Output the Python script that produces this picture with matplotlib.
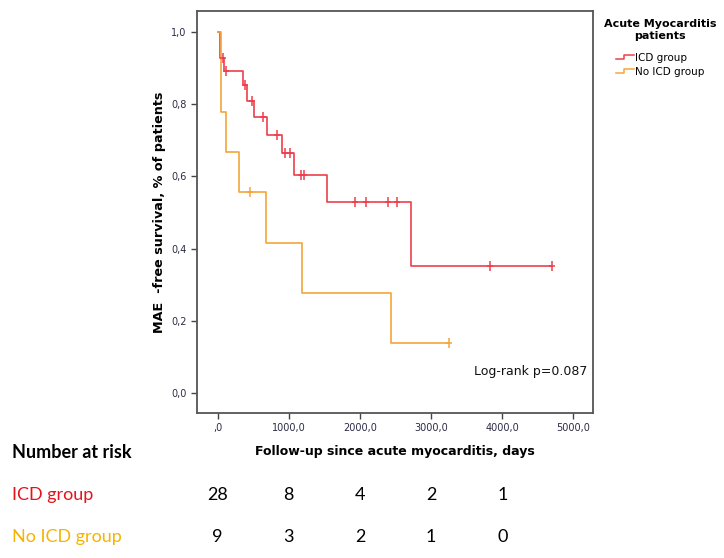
import numpy as np
import matplotlib
matplotlib.use("Agg")
import matplotlib.pyplot as plt
from matplotlib.legend_handler import HandlerBase
from matplotlib.lines import Line2D
import matplotlib.transforms as mtransforms

# ---- data ----
icd_times = [0, 35, 90, 363, 410, 513, 700, 906, 1079, 1543, 2722, 4694]
icd_surv = [1.0, 0.929, 0.893, 0.852, 0.810, 0.764, 0.716, 0.666, 0.605, 0.529, 0.353, 0.353]
icd_censor = [77, 120, 386, 489, 643, 831, 948, 1018, 1168, 1215, 1936, 2081, 2400, 2517, 3827, 4694]

noicd_times = [0, 49, 124, 302, 677, 1182, 2437, 3251]
noicd_surv = [1.0, 0.778, 0.667, 0.556, 0.417, 0.278, 0.139, 0.139]
noicd_censor = [456, 3251]

risk_times = [0, 1000, 2000, 3000, 4000]
risk_icd = [28, 8, 4, 2, 1]
risk_noicd = [9, 3, 2, 1, 0]

xticks = [0, 1000, 2000, 3000, 4000, 5000]
xtick_labels = [",0", "1000,0", "2000,0", "3000,0", "4000,0", "5000,0"]
yticks = [0.0, 0.2, 0.4, 0.6, 0.8, 1.0]
ytick_labels = ["0,0", "0,2", "0,4", "0,6", "0,8", "1,0"]

RED = "#ee3f4b"
ORANGE = "#f5a53a"
RED_TXT = "#e3141c"
YEL_TXT = "#f5b400"


def step_value(times, surv, t):
    i = np.searchsorted(times, t, side="right") - 1
    return surv[i]


fig = plt.figure(figsize=(7.24, 5.58), dpi=100)
ax = fig.add_axes([197 / 724, 1 - 413 / 558, 396 / 724, 402 / 558])

ax.step(icd_times, icd_surv, where="post", color=RED, lw=1.2)
ax.step(noicd_times, noicd_surv, where="post", color=ORANGE, lw=1.2)
for times, surv, cens, col in [(icd_times, icd_surv, icd_censor, RED),
                               (noicd_times, noicd_surv, noicd_censor, ORANGE)]:
    cy = [step_value(times, surv, t) for t in cens]
    ax.plot(cens, cy, ls="none", marker="|", ms=7, mew=1.1, color=col)
    ax.plot(cens, cy, ls="none", marker="_", ms=5, mew=1.1, color=col)

ax.set_xlim(-288, 5274)
ax.set_ylim(-0.055, 1.058)
ax.set_xticks(xticks)
ax.set_xticklabels(xtick_labels)
ax.set_yticks(yticks)
ax.set_yticklabels(ytick_labels)
ax.tick_params(labelsize=7, labelcolor="#2b2b45", color="#444444", length=4, width=1)
for s in ax.spines.values():
    s.set_color("#555555")
    s.set_linewidth(1.3)

ax.set_xlabel("Follow-up since acute myocarditis, days", fontsize=9, fontweight="bold", labelpad=8)
ax.set_ylabel("MAE  -free survival, % of patients", fontsize=9.2, fontweight="bold", labelpad=4)

ax.text(0.985, 0.102, "Log-rank p=0.087", transform=ax.transAxes, ha="right", va="center",
        fontsize=9, color="#111111")


class StepHandler(HandlerBase):
    def create_artists(self, legend, orig_handle, xdescent, ydescent, width, height, fontsize, trans):
        x0 = -xdescent
        xs = [x0, x0 + width * 0.45, x0 + width * 0.45, x0 + width]
        ys = [-ydescent + height * 0.25] * 2 + [-ydescent + height * 0.8] * 2
        ln = Line2D(xs, ys, color=orig_handle.get_color(), lw=1.1, transform=trans)
        return [ln]


h1 = Line2D([], [], color=RED)
h2 = Line2D([], [], color=ORANGE)
leg = fig.legend([h1, h2], ["ICD group", "No ICD group"],
                 handler_map={Line2D: StepHandler()},
                 loc="upper center", bbox_to_anchor=(660 / 724, 1 - 15 / 558),
                 frameon=False, fontsize=7.5, title="Acute Myocarditis\npatients",
                 title_fontproperties={"size": 8, "weight": "bold"},
                 alignment="center",
                 handlelength=1.7, handletextpad=0.1, labelspacing=0.35, borderaxespad=0)
leg.get_title().set_multialignment("center")
try:
    leg._legend_box.sep = 9
except Exception:
    pass

# ---- number at risk table ----
tr = mtransforms.blended_transform_factory(ax.transData, fig.transFigure)
fam = ["Lato", "DejaVu Sans"]
fig.text(12 / 724, 1 - 453 / 558, "Number at risk", fontsize=13, fontweight="bold",
         family=fam, va="center", ha="left", color="black")
fig.text(12 / 724, 1 - 495 / 558, "ICD group", fontsize=13, family=fam,
         va="center", ha="left", color=RED_TXT)
fig.text(12 / 724, 1 - 537 / 558, "No ICD group", fontsize=13, family=fam,
         va="center", ha="left", color=YEL_TXT)
for t, a, b in zip(risk_times, risk_icd, risk_noicd):
    ax.text(t, 1 - 495 / 558, str(a), transform=tr, ha="center", va="center",
            fontsize=13, family=fam, color="black")
    ax.text(t, 1 - 537 / 558, str(b), transform=tr, ha="center", va="center",
            fontsize=13, family=fam, color="black")

fig.savefig("out.png", dpi=100, facecolor="white")
